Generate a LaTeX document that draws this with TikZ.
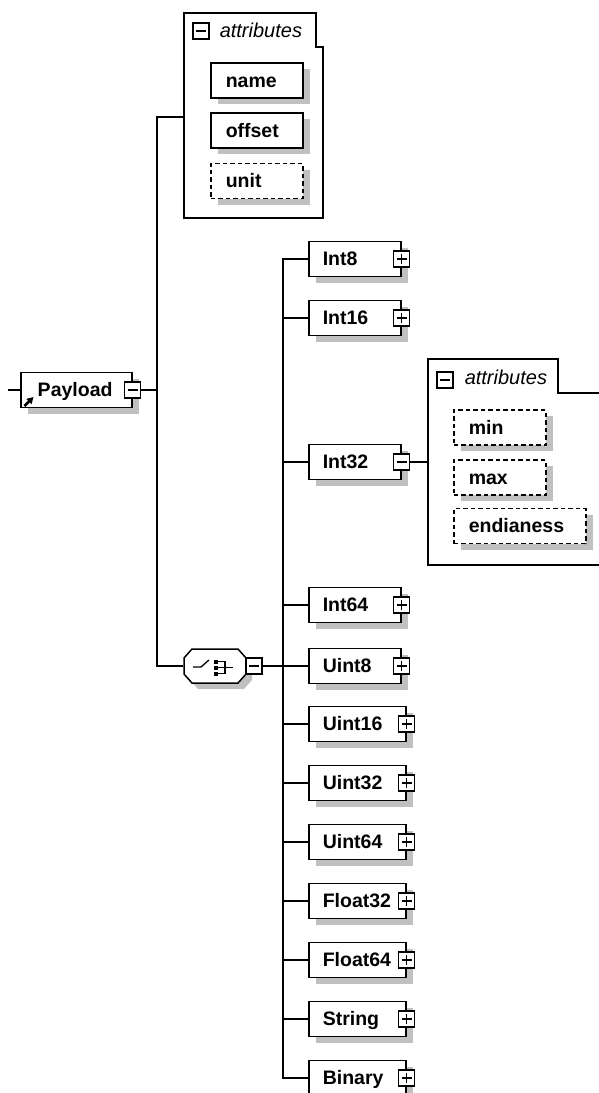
\documentclass[tikz,border=0pt]{standalone}
\usepackage{fontspec}
\setmainfont{Liberation Sans}
\usetikzlibrary{shadows,arrows.meta}
\definecolor{shd}{RGB}{192,192,192}
\begin{document}
\begin{tikzpicture}[x=1pt,y=-1pt,line width=1.5pt,
  lbl/.style={font=\bfseries\fontsize{19.5}{21}\selectfont},
  shadowed/.style={general shadow={draw=none,fill=shd,shadow xshift=7pt,shadow yshift=-6pt}},
  box/.style={draw,fill=white,rectangle,minimum height=35pt,inner ysep=0pt,
    text height=17pt,text depth=3.4pt,align=left,anchor=west,lbl,shadowed},
  elem/.style={box,inner xsep=14pt,minimum width=#1,text width=#1-28pt},
  elem/.default=92pt,
  attrbox/.style={box,inner xsep=15pt,minimum width=#1,text width=#1-30pt},
  attrbox/.default=92pt,
  optattr/.style={attrbox=#1,dashed,dash pattern=on 4.5pt off 3pt},
  optattr/.default=92pt,
  sqbox/.style={draw,fill=white,solid,minimum size=16pt,inner sep=0pt,line width=1.4pt},
  plusbox/.style={sqbox,path picture={
      \draw[line width=1.4pt] (path picture bounding box.center) ++(-5,0) -- ++(10,0);
      \draw[line width=1.4pt] (path picture bounding box.center) ++(0,-5) -- ++(0,10);}},
  minusbox/.style={sqbox,path picture={
      \draw[line width=1.4pt] (path picture bounding box.center) ++(-5,0) -- ++(10,0);}},
  hdr/.style={font=\itshape\fontsize{20}{22}\selectfont,anchor=base west,inner sep=0pt},
  grp/.style={draw,fill=white,line width=1.5pt}
]
\useasboundingbox (0,0) rectangle (599,1093);
\clip (0,0) rectangle (599,1093);

% spine positions
\coordinate (j1) at (157,0);
\coordinate (j2) at (283,0);
\coordinate (lead) at (8,390);
\coordinate (g1in) at (184,117);
\coordinate (g2in) at (428,462);

% ---- attribute group of Payload ----
\draw[grp] (184,13) -- (316,13) -- (316,47) -- (323,47) -- (323,218) -- (184,218) -- cycle;
\node[minusbox] (g1c) at (201,31) {};
\node[hdr] (g1t) at (219,37) {attributes};
\node[attrbox] (name) at (210,80.5) {name};
\node[attrbox] (offset) at (210,130.5) {offset};
\node[optattr] (unit) at (210,181) {unit};

% ---- Payload ----
\node[elem=111pt,inner xsep=17pt,text width=77pt] (payload) at (20,390) {Payload};
\node[minusbox] (pc) at (payload.east) {};
\draw[-{Triangle[length=6.5pt,width=7pt]},line width=2.6pt] (24.5,406) -- (33.5,397);
\draw (lead) -- (payload.west);
\draw (pc.east) -- (pc.east -| j1);

% ---- choice compositor ----
\node[minimum width=62pt,minimum height=34pt,inner sep=0pt] (choice) at (215,666) {};
\fill[shd] (198,655) -- (244,655) -- (252,664) -- (252,680) -- (244,689) -- (198,689) -- (190,680) -- (190,664) -- cycle;
\draw[fill=white] (192,649) -- (238,649) -- (246,658) -- (246,674) -- (238,683) -- (192,683) -- (184,674) -- (184,658) -- cycle;
\draw[line width=1.3pt] (193,667) -- (201,667) -- (209,660);
\fill (214,659.5) rectangle ++(4,4);
\fill (214,665.5) rectangle ++(4,4);
\fill (214,671.5) rectangle ++(4,4);
\draw[line width=1.3pt] (218,661.5) -- (225,661.5) -- (225,673.5) -- (218,673.5);
\draw[line width=1.3pt] (218,667.5) -- (233,667.5);
\node[minusbox] (cc) at (254,666) {};

\draw (g1in) -- (g1in -| j1) -- (choice.west -| j1) -- (choice.west);

% ---- elements of the choice ----
\node[elem] (int8) at (308,259) {Int8};
\node[elem] (int16) at (308,318) {Int16};
\node[elem] (int32) at (308,462) {Int32};
\node[elem] (int64) at (308,605) {Int64};
\node[elem] (uint8) at (308,666) {Uint8};
\node[elem=97pt] (uint16) at (308,724) {Uint16};
\node[elem=97pt] (uint32) at (308,783) {Uint32};
\node[elem=97pt] (uint64) at (308,842) {Uint64};
\node[elem=97pt] (float32) at (308,901) {Float32};
\node[elem=97pt] (float64) at (308,960) {Float64};
\node[elem=97pt] (string) at (308,1019) {String};
\node[elem=97pt] (binary) at (308,1078) {Binary};

\foreach \e in {int8,int16,int64,uint8,uint16,uint32,uint64,float32,float64,string,binary}
  \node[plusbox] (\e x) at (\e.east) {};
\node[minusbox] (int32c) at (int32.east) {};

\draw (cc.east) -- (cc.east -| j2);
\draw (int8.west) -- (int8.west -| j2) -- (binary.west -| j2) -- (binary.west);
\foreach \e in {int16,int32,int64,uint8,uint16,uint32,uint64,float32,float64,string}
  \draw (\e.west) -- (\e.west -| j2);

% ---- attribute group of Int32 ----
\draw[line width=1.5pt] (620,393) -- (558,393) -- (558,359) -- (428,359) -- (428,565) -- (620,565);
\node[minusbox] (g2c) at (445,380) {};
\node[hdr] (g2t) at (464,384) {attributes};
\node[optattr] (min) at (453,427.5) {min};
\node[optattr] (max) at (453,477.5) {max};
\node[optattr=132pt] (endianess) at (453,526) {endianess};
\draw (int32c.east) -- (g2in);
\end{tikzpicture}
\end{document}
